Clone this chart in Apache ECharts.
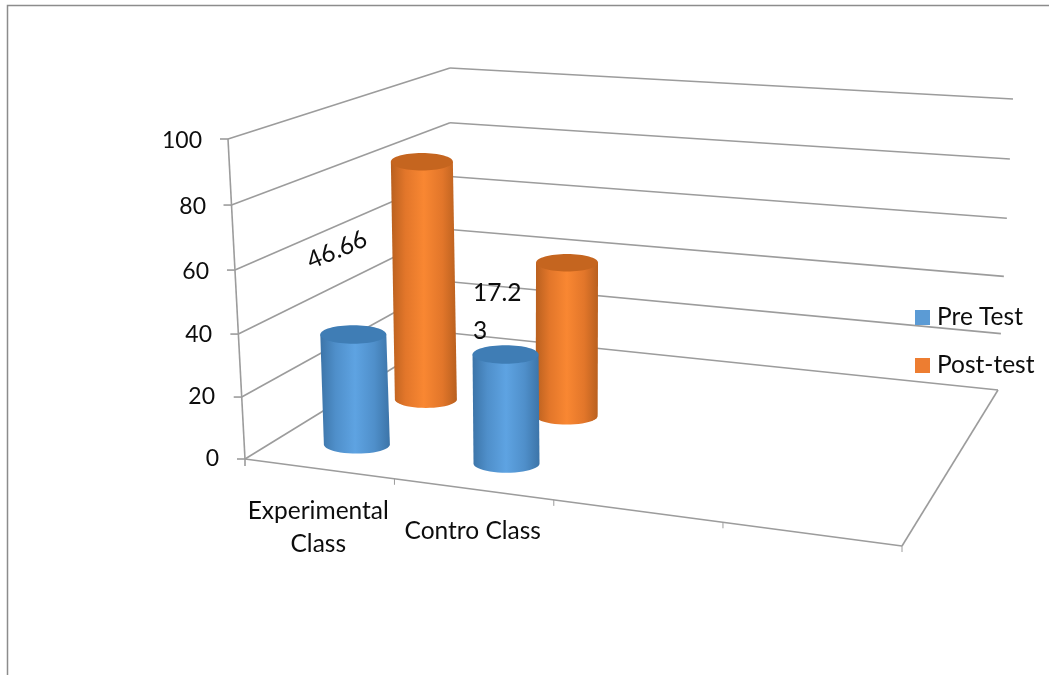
<!DOCTYPE html>
<html>
<head>
<meta charset="utf-8">
<style>html,body{margin:0;padding:0;background:#fff}#chart{width:1049px;height:675px}</style>
<script src="https://cdn.jsdelivr.net/npm/echarts@6/dist/echarts.min.js"></script>
</head>
<body>
<div id="chart"></div>
<script>
// Chart values
const categories = ['Experimental\nClass', 'Contro Class', '', ''];
const preTest = [36, 35];
const postTest = [81.5, 52];
const valueTicks = [0, 20, 40, 60, 80, 100];
const preTestName = 'Pre Test';
const postTestName = 'Post-test';
const stray46 = '46.66';
const stray17 = ['17.2', '3'];

// Corners of the slanted box: floor and top plane, front/back, left/right
const floorFL = [245, 459], floorFR = [902, 546], floorBL = [450, 333], floorBR = [998, 390];
const topFL = [228, 139], topFR = [920, 195], topBL = [450, 68], topBR = [1013, 99];

const GRID_LEFT = 241, GRID_WIDTH = 618, GRID_TOP = 140, GRID_BOTTOM_Y = 459;
const LINE_COLOR = '#9c9c9c';
const TEXT_COLOR = '#0d0d0d';
const FONT = 'Lato, "Open Sans", sans-serif';
const TEXT_SIZE = 24.5;

function lerp(a, b, t) { return [a[0] + (b[0] - a[0]) * t, a[1] + (b[1] - a[1]) * t]; }
function bilinear(fl, fr, bl, br, u, v) { return lerp(lerp(fl, fr, u), lerp(bl, br, u), v); }

// Box coordinates (u along categories, v into depth, w up) to screen pixels
function project(u, v, w) {
  const uu = u - 0.12 * u * (1 - u);
  const ww = w - 0.04 * w * (1 - w);
  return lerp(bilinear(floorFL, floorFR, floorBL, floorBR, uu, v),
              bilinear(topFL, topFR, topBL, topBR, uu, v), ww);
}

function lineEl(a, b, width) {
  return {
    type: 'line',
    shape: { x1: a[0], y1: a[1], x2: b[0], y2: b[1] },
    style: { stroke: LINE_COLOR, lineWidth: width || 1.6, fill: null },
    silent: true
  };
}

// Level lines on both walls plus the axis ticks
function renderLevel(params, api) {
  const w = (GRID_BOTTOM_Y - api.coord([0, api.value(1)])[1]) / (GRID_BOTTOM_Y - GRID_TOP);
  const front = project(0, 0, w), back = project(0, 1, w), right = project(1, 1, w);
  return {
    type: 'group',
    children: [
      lineEl(front, back),
      lineEl(back, right),
      lineEl(front, [front[0] - 8, front[1]])
    ]
  };
}

// Axis post, floor edges and the category ticks
function renderFloor(params, api) {
  const n = categories.length;
  const kids = [
    lineEl(project(0, 0, 0), project(0, 0, 1)),
    lineEl(project(0, 0, 0), project(1, 0, 0)),
    lineEl(project(1, 0, 0), project(1, 1, 0)),
    lineEl(project(0, 0, 0), [floorFL[0], floorFL[1] + 7])
  ];
  for (let i = 1; i <= n; i++) {
    const p = project(i / n, 0, 0);
    kids.push(lineEl(p, [p[0], p[1] + 6], 1));
  }
  return { type: 'group', children: kids };
}

// Cylinder drawn from its category and value through the axes, placed at a depth slot
function cylinderRenderer(depth, uShift, rx, colors) {
  return function (params, api) {
    const xc = api.coord([api.value(0), 0])[0];
    const u = (xc - GRID_LEFT) / GRID_WIDTH + uShift;
    const w = (GRID_BOTTOM_Y - api.coord([0, api.value(1)])[1]) / (GRID_BOTTOM_Y - GRID_TOP);
    const base = project(u, depth, 0);
    const head = project(u, depth, w);
    const ry = rx * 0.28;
    const pts = [[head[0] - rx, head[1]]];
    pts.push([base[0] - rx, base[1]]);
    for (let i = 1; i < 24; i++) {
      const a = Math.PI * i / 24;
      pts.push([base[0] - rx * Math.cos(a), base[1] + ry * Math.sin(a)]);
    }
    pts.push([base[0] + rx, base[1]], [head[0] + rx, head[1]]);
    const body = {
      type: 'linearGradient', x: 0, y: 0, x2: 1, y2: 0,
      colorStops: [
        { offset: 0, color: colors.edge },
        { offset: 0.22, color: colors.mid },
        { offset: 0.5, color: colors.light },
        { offset: 0.78, color: colors.mid },
        { offset: 1, color: colors.edge }
      ]
    };
    return {
      type: 'group',
      children: [
        { type: 'polygon', shape: { points: pts }, style: { fill: body } },
        { type: 'ellipse', shape: { cx: head[0], cy: head[1], rx: rx, ry: ry }, style: { fill: colors.cap } }
      ]
    };
  };
}

const blue = { edge: '#3c74a8', mid: '#4f8fca', light: '#5ea3e2', cap: '#3f7db5' };
const orange = { edge: '#b9601f', mid: '#e2762a', light: '#f98732', cap: '#c5651f' };

const yLabelShift = { 0: [0, 0], 20: [3, 4], 40: [6, 7], 60: [8, 10], 80: [6, 13], 100: [2, 17] };

const chart = echarts.init(document.getElementById('chart'), null, { renderer: 'canvas' });
const yRich = {};
valueTicks.forEach(function (t) {
  yRich['t' + t] = {
    fontFamily: FONT, fontSize: 23, color: TEXT_COLOR,
    padding: [yLabelShift[t][0], yLabelShift[t][1], 0, 0]
  };
});

chart.setOption({
  animation: false,
  backgroundColor: '#fff',
  grid: { left: GRID_LEFT, width: GRID_WIDTH, top: GRID_TOP, height: GRID_BOTTOM_Y - GRID_TOP, containLabel: false, show: false },
  xAxis: {
    type: 'category',
    data: categories,
    axisLine: { show: false },
    axisTick: { show: false },
    splitLine: { show: false },
    axisLabel: {
      interval: 0, margin: 69, verticalAlign: 'middle', lineHeight: 33,
      fontFamily: FONT, fontSize: TEXT_SIZE, color: TEXT_COLOR,
      formatter: function (v) { return v === 'Contro Class' ? '{c|' + v + '}' : v; },
      rich: { c: { fontFamily: FONT, fontSize: TEXT_SIZE, color: TEXT_COLOR, padding: [7, 0, 0, 0] } }
    }
  },
  yAxis: {
    type: 'value', min: 0, max: 100, interval: 20,
    axisLine: { show: false },
    axisTick: { show: false },
    splitLine: { show: false },
    axisLabel: {
      margin: 22,
      formatter: function (v) { return '{t' + v + '|' + v + '}'; },
      rich: yRich
    }
  },
  legend: {
    data: [preTestName, postTestName],
    orient: 'vertical', left: 910, top: 300,
    itemWidth: 15, itemHeight: 15, itemGap: 23,
    icon: 'rect',
    textStyle: { fontFamily: FONT, fontSize: TEXT_SIZE, color: TEXT_COLOR, padding: [0, 0, 0, 2] }
  },
  graphic: [
    { type: 'polyline', shape: { points: [[7.5, 675], [7.5, 5.5], [1049, 5.5]] }, style: { stroke: '#8c8c8c', lineWidth: 1.5, fill: null }, silent: true },
    { type: 'text', x: 337, y: 250, rotation: 23 * Math.PI / 180, style: { text: stray46, fontFamily: FONT, fontSize: TEXT_SIZE, fill: TEXT_COLOR, align: 'center', verticalAlign: 'middle' }, z: 20 },
    { type: 'text', x: 473, y: 293, style: { text: stray17[0], fontFamily: FONT, fontSize: TEXT_SIZE, fill: TEXT_COLOR, align: 'left', verticalAlign: 'middle' }, z: 20 },
    { type: 'text', x: 473, y: 331, style: { text: stray17[1], fontFamily: FONT, fontSize: TEXT_SIZE, fill: TEXT_COLOR, align: 'left', verticalAlign: 'middle' }, z: 20 }
  ],
  series: [
    {
      name: 'levels', type: 'custom', z: 1, silent: true, clip: false,
      renderItem: renderLevel,
      data: valueTicks.map(function (t) { return [0, t]; })
    },
    {
      name: 'floor', type: 'custom', z: 1, silent: true, clip: false,
      renderItem: renderFloor,
      data: [[0, 0]]
    },
    {
      name: postTestName, type: 'custom', z: 3, clip: false,
      itemStyle: { color: '#ed7d31' },
      renderItem: cylinderRenderer(0.54, 0.006, 31, orange),
      data: postTest.map(function (v, i) { return [i, v]; })
    },
    {
      name: preTestName, type: 'custom', z: 4, clip: false,
      itemStyle: { color: '#5b9bd5' },
      renderItem: cylinderRenderer(0.19, 0.003, 33, blue),
      data: preTest.map(function (v, i) { return [i, v]; })
    }
  ]
});
</script>
</body>
</html>
